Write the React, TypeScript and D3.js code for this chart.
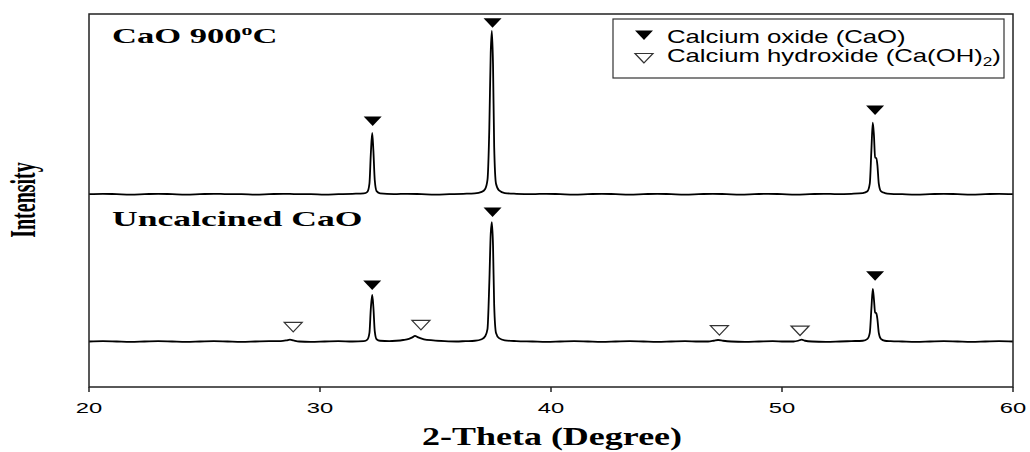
import React from "react";
import * as d3 from "d3";

// Canvas and plot frame
const WIDTH = 1030;
const HEIGHT = 452;
const PLOT = { left: 89, right: 1013, top: 14, bottom: 387 };

// Axis definition
const X_DOMAIN: [number, number] = [20, 60];
const Y_DOMAIN: [number, number] = [0, 1000];
const X_TICKS = [20, 30, 40, 50, 60];

// Vertical offset applied to the calcined pattern so the two scans stack
const CALCINED_OFFSET = 395;

// CaO calcined at 900 °C: [2θ, counts]
const calcinedScan: [number, number][] = [
  [20, 122], [20.6, 123], [21.2, 122], [21.8, 121], [22.4, 122], [23, 123],
  [23.6, 122], [24.2, 121], [24.8, 122], [25.4, 123], [26, 122], [26.6, 122],
  [27.2, 121], [27.8, 122], [28.4, 123], [29, 122], [29.6, 122], [30.2, 121],
  [30.8, 122], [31.4, 123], [31.9, 124], [32.05, 128], [32.14, 150], [32.2, 230],
  [32.26, 286], [32.31, 240], [32.37, 160], [32.45, 130], [32.6, 124], [33.2, 122],
  [33.8, 123], [34.4, 122], [35, 121], [35.6, 122], [36.2, 123], [36.7, 124],
  [37.0, 128], [37.15, 136], [37.25, 160], [37.33, 300], [37.39, 500], [37.44, 560],
  [37.49, 470], [37.54, 250], [37.62, 150], [37.75, 132], [38.0, 125], [38.5, 123],
  [39.2, 122], [39.8, 123], [40.4, 122], [41, 121], [41.6, 122], [42.2, 123],
  [42.8, 122], [43.4, 121], [44, 122], [44.6, 123], [45.2, 122], [45.8, 121],
  [46.4, 122], [47, 123], [47.6, 122], [48.2, 121], [48.8, 122], [49.4, 123],
  [50, 122], [50.6, 121], [51.2, 122], [51.8, 123], [52.4, 122], [53, 123],
  [53.5, 125], [53.7, 130], [53.8, 150], [53.87, 240], [53.93, 314], [53.98, 280],
  [54.03, 220], [54.08, 219], [54.13, 200], [54.19, 150], [54.28, 130], [54.45, 125],
  [54.7, 123], [55.2, 122], [55.8, 121], [56.4, 122], [57, 123], [57.6, 122],
  [58.2, 121], [58.8, 122], [59.4, 123], [60, 122],
];

// Uncalcined CaO: [2θ, counts]
const uncalcinedScan: [number, number][] = [
  [20, 122], [20.6, 123], [21.2, 122], [21.8, 121], [22.4, 122], [23, 123],
  [23.6, 122], [24.2, 121], [24.8, 122], [25.4, 123], [26, 122], [26.6, 121],
  [27.2, 122], [27.8, 123], [28.3, 123], [28.55, 125], [28.7, 127], [28.85, 125],
  [29.1, 122], [29.6, 121], [30.2, 122], [30.8, 123], [31.4, 122], [31.9, 123],
  [32.05, 127], [32.14, 145], [32.2, 210], [32.26, 247], [32.31, 215], [32.37, 150],
  [32.45, 128], [32.6, 124], [33.0, 123], [33.3, 124], [33.6, 126], [33.85, 129],
  [34.0, 133], [34.11, 137], [34.25, 133], [34.5, 128], [34.9, 125], [35.4, 123],
  [35.9, 122], [36.3, 123], [36.7, 124], [37.0, 128], [37.15, 136], [37.25, 155],
  [37.33, 280], [37.39, 410], [37.44, 442], [37.49, 380], [37.54, 220], [37.62, 145],
  [37.75, 131], [38.0, 125], [38.5, 123], [39.2, 122], [39.8, 121], [40.4, 122],
  [41, 123], [41.6, 122], [42.2, 121], [42.8, 122], [43.4, 123], [44, 122],
  [44.6, 121], [45.2, 122], [45.8, 123], [46.4, 122], [46.8, 122], [47.05, 124],
  [47.23, 126], [47.45, 124], [47.8, 122], [48.4, 121], [49, 122], [49.6, 123],
  [50.1, 122], [50.5, 122], [50.7, 124], [50.85, 127], [51.0, 124], [51.3, 122],
  [51.9, 121], [52.5, 122], [53, 123], [53.5, 124], [53.7, 129], [53.8, 145],
  [53.87, 210], [53.93, 263], [53.98, 235], [54.03, 200], [54.08, 198], [54.13, 182],
  [54.19, 145], [54.28, 129], [54.45, 124], [54.7, 123], [55.2, 122], [55.8, 121],
  [56.4, 122], [57, 123], [57.6, 122], [58.2, 121], [58.8, 122], [59.4, 123],
  [60, 122],
];

// Phase markers: [2θ, level of the marker tip]
const calcinedCaOMarks: [number, number][] = [[32.28, 305], [37.47, 568], [54.03, 334]];
const uncalcinedCaOMarks: [number, number][] = [[32.26, 260], [37.47, 456], [54.03, 285]];
const uncalcinedHydroxideMarks: [number, number][] = [
  [28.84, 148], [34.37, 153], [47.29, 139], [50.78, 138],
];

const SERIF = "'Liberation Serif', 'Times New Roman', serif";
const SANS = "'Liberation Sans', Arial, sans-serif";

const x = d3.scaleLinear().domain(X_DOMAIN).range([PLOT.left, PLOT.right]);
const y = d3.scaleLinear().domain(Y_DOMAIN).range([PLOT.bottom, PLOT.top]);

const TRI_W = 18;
const TRI_H = 9.5;

// Downward triangle whose tip sits at (cx, tipY)
function triangle(cx: number, tipY: number) {
  const p = d3.path();
  p.moveTo(cx, tipY);
  p.lineTo(cx - TRI_W / 2, tipY - TRI_H);
  p.lineTo(cx + TRI_W / 2, tipY - TRI_H);
  p.closePath();
  return p.toString();
}

function Stretch({ x0, y0, sx, children }: { x0: number; y0: number; sx: number; children: React.ReactNode }) {
  return <g transform={`translate(${x0},${y0}) scale(${sx},1)`}>{children}</g>;
}

export default function App() {
  const line = (offset: number) =>
    d3
      .line<[number, number]>()
      .x((d) => x(d[0]))
      .y((d) => y(d[1] + offset))
      .curve(d3.curveMonotoneX);

  return (
    <svg width={WIDTH} height={HEIGHT} style={{ display: "block", position: "absolute", left: 0, top: 0 }}>
      <rect x={0} y={0} width={WIDTH} height={HEIGHT} fill="#fff" />

      {/* scans */}
      <path d={line(CALCINED_OFFSET)(calcinedScan) ?? ""} fill="none" stroke="#000" strokeWidth={1.8} strokeLinejoin="round" />
      <path d={line(0)(uncalcinedScan) ?? ""} fill="none" stroke="#000" strokeWidth={1.8} strokeLinejoin="round" />

      {/* phase markers */}
      {calcinedCaOMarks.map(([t, v], i) => (
        <path key={`cm${i}`} d={triangle(x(t), y(v + CALCINED_OFFSET))} fill="#000" />
      ))}
      {uncalcinedCaOMarks.map(([t, v], i) => (
        <path key={`um${i}`} d={triangle(x(t), y(v))} fill="#000" />
      ))}
      {uncalcinedHydroxideMarks.map(([t, v], i) => (
        <path key={`uh${i}`} d={triangle(x(t), y(v))} fill="#fff" stroke="#333" strokeWidth={1.2} />
      ))}

      {/* frame */}
      <rect
        x={PLOT.left}
        y={PLOT.top}
        width={PLOT.right - PLOT.left}
        height={PLOT.bottom - PLOT.top}
        fill="none"
        stroke="#222"
        strokeWidth={1.5}
      />

      {/* x axis ticks and labels */}
      {X_TICKS.map((t) => (
        <g key={t}>
          <line x1={x(t)} x2={x(t)} y1={PLOT.bottom} y2={PLOT.bottom + 5} stroke="#222" strokeWidth={1.5} />
          <Stretch x0={x(t)} y0={413} sx={1.7}>
            <text textAnchor="middle" fontFamily={SANS} fontSize={14} fill="#000">
              {t}
            </text>
          </Stretch>
        </g>
      ))}

      {/* axis titles */}
      <Stretch x0={552} y0={445} sx={1.44}>
        <text textAnchor="middle" fontFamily={SERIF} fontWeight="bold" fontSize={25} fill="#000">
          2-Theta (Degree)
        </text>
      </Stretch>
      <g transform="translate(35,200) scale(1.8,1) rotate(-90)">
        <text textAnchor="middle" fontFamily={SERIF} fontWeight="bold" fontSize={20} fill="#000">
          Intensity
        </text>
      </g>

      {/* sample labels */}
      <Stretch x0={112} y0={43} sx={1.57}>
        <text fontFamily={SERIF} fontWeight="bold" fontSize={22} fill="#000">
          CaO 900
          <tspan fontSize={14} dy={-8}>o</tspan>
          <tspan dy={8}>C</tspan>
        </text>
      </Stretch>
      <Stretch x0={112} y0={226} sx={1.62}>
        <text fontFamily={SERIF} fontWeight="bold" fontSize={22} fill="#000">
          Uncalcined CaO
        </text>
      </Stretch>

      {/* legend */}
      <rect x={613} y={19} width={391} height={59} fill="#fff" stroke="#333" strokeWidth={1.2} />
      <path d={triangle(644, 40)} fill="#000" />
      <path d={triangle(644, 63)} fill="#fff" stroke="#333" strokeWidth={1.2} />
      <Stretch x0={667} y0={43} sx={1.43}>
        <text fontFamily={SANS} fontSize={18} fill="#000">
          Calcium oxide (CaO)
        </text>
      </Stretch>
      <Stretch x0={667} y0={62} sx={1.43}>
        <text fontFamily={SANS} fontSize={18} fill="#000">
          Calcium hydroxide (Ca(OH)
          <tspan fontSize={12} dy={4}>2</tspan>
          <tspan dy={-4}>)</tspan>
        </text>
      </Stretch>
    </svg>
  );
}
